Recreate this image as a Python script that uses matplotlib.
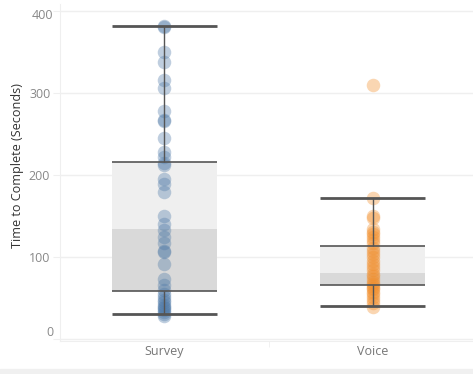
import matplotlib
matplotlib.use("Agg")
import matplotlib.pyplot as plt
from matplotlib.patches import Rectangle

categories = ["Survey", "Voice"]
survey_times = [382, 381, 350, 338, 316, 306, 279, 268, 266, 245, 228, 222, 215, 213,
                195, 190, 180, 151, 141, 133, 125, 117, 108, 107, 92, 74, 66, 60,
                55, 52, 48, 45, 42, 40, 38, 36, 33, 31, 29]
voice_times = [310, 173, 151, 148, 134, 131, 128, 125, 121, 117, 112, 108, 104, 100,
               96, 92, 88, 84, 80, 77, 74, 70, 67, 65, 63, 61, 58, 55, 52, 48, 44, 40]
series = [survey_times, voice_times]
colors = ["#4e79a7", "#f28e2b"]

# box-plot statistics
whisker_low = [31, 41]
q1 = [59, 66]
median = [134, 81]
q3 = [216, 114]
whisker_high = [382, 173]

yticks = [0, 100, 200, 300, 400]

fig = plt.figure(figsize=(4.73, 3.74), dpi=100)
ax = fig.add_axes([60/473, 1-341/374, 1-60/473, 337/374])
ax.set_xlim(-0.5, 1.48)
ax.set_ylim(-2, 409)

font = "Open Sans"
grid_c = "#efefef"
line_c = "#555555"
tick_c = "#888888"
bw = 0.503

for i, cat in enumerate(categories):
    # lower band (q1 -> median) darker, upper band (median -> q3) lighter
    ax.bar(i, median[i]-q1[i], bottom=q1[i], width=bw, color="#d9d9d9", zorder=1, linewidth=0)
    ax.bar(i, q3[i]-median[i], bottom=median[i], width=bw, color="#efefef", zorder=1, linewidth=0)
    ax.scatter([i]*len(series[i]), series[i], s=95, color=colors[i], alpha=0.36,
               linewidths=0, zorder=3)
    # whisker vertical lines
    ax.vlines(i, q3[i], whisker_high[i], color=line_c, lw=1.0, zorder=4)
    ax.vlines(i, whisker_low[i], q1[i], color=line_c, lw=1.0, zorder=4)
    # box edges
    ax.hlines([q1[i], q3[i]], i-bw/2, i+bw/2, color=line_c, lw=1.2, zorder=4)
    # whisker caps
    ax.hlines([whisker_low[i], whisker_high[i]], i-bw/2, i+bw/2, color=line_c, lw=2.0, zorder=4)

ax.set_yticks(yticks)
labels = []
for v in yticks:
    labels.append("" if v in (yticks[0], yticks[-1]) else str(v))
ax.set_yticklabels(labels, fontfamily=font, fontsize=9, color=tick_c)
# end labels are nudged inward, as in the original
for v, dy in ((yticks[0], 8), (yticks[-1], -3)):
    ax.annotate(str(v), xy=(0, v), xycoords=("axes fraction", "data"),
                xytext=(-7, dy), textcoords="offset pixels", ha="right", va="center_baseline",
                fontfamily=font, fontsize=9, color=tick_c, annotation_clip=False)
ax.yaxis.grid(True, color=grid_c, lw=1)
ax.set_axisbelow(True)
ax.tick_params(axis="y", length=5, color=grid_c, pad=2)
ax.set_xticks([0, 1])
ax.set_xticklabels(categories, fontfamily=font, fontsize=9, color="#777777")
ax.set_xticks([0.5], minor=True)
ax.tick_params(axis="x", which="major", length=0, pad=3)
ax.tick_params(axis="x", which="minor", length=4, color=grid_c)
for s in ["top", "right"]:
    ax.spines[s].set_visible(False)
ax.spines["left"].set_color(grid_c)
ax.spines["bottom"].set_color(grid_c)
ax.set_ylabel("Time to Complete (Seconds)", fontfamily=font, fontsize=9.1, color="#333333")
ax.yaxis.set_label_coords(-0.088, 0.522)

fig.patches.append(Rectangle((0, 0), 1, 5/374, transform=fig.transFigure,
                             color="#f0f0f0", zorder=0))

fig.savefig("out.png", dpi=100)
